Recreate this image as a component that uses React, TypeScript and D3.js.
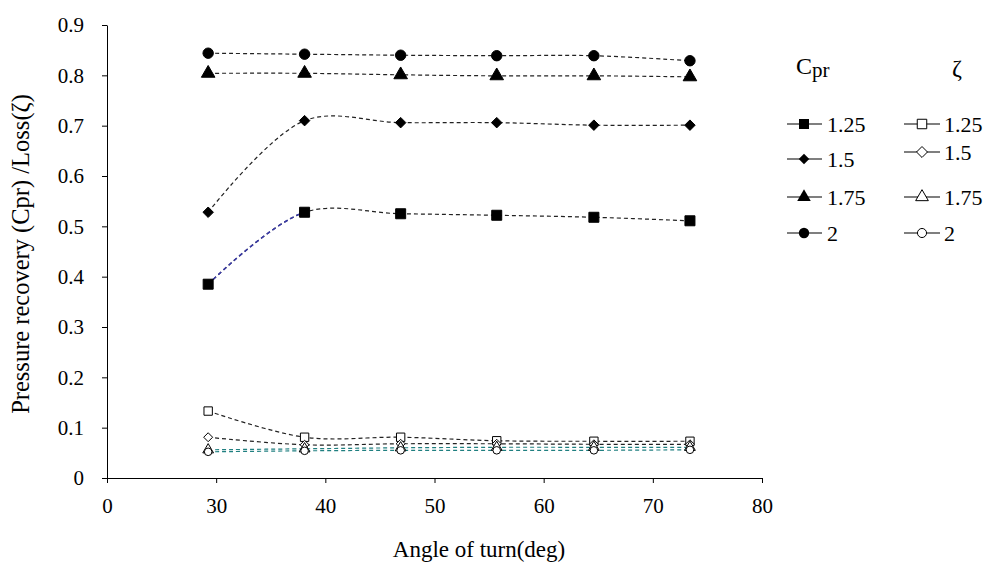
import React, { useEffect, useRef } from 'react';
import * as d3 from 'd3';

// angle of turn (deg)
const angles = [27.8, 38.1, 46.9, 55.7, 64.6, 73.4];

// pressure recovery Cpr, one array per area ratio
const cpr125 = [0.385, 0.528, 0.525, 0.522, 0.518, 0.511];
const cpr150 = [0.528, 0.71, 0.706, 0.706, 0.701, 0.701];
const cpr175 = [0.804, 0.804, 0.801, 0.799, 0.799, 0.797];
const cpr200 = [0.844, 0.842, 0.84, 0.839, 0.839, 0.829];

// loss coefficient zeta
const loss125 = [0.133, 0.081, 0.081, 0.074, 0.073, 0.073];
const loss150 = [0.081, 0.066, 0.068, 0.068, 0.067, 0.067];
const loss175 = [0.056, 0.058, 0.06, 0.061, 0.061, 0.061];
const loss200 = [0.052, 0.054, 0.055, 0.055, 0.055, 0.056];

const ratios = ['1.25', '1.5', '1.75', '2'];
const xTickLabels = [0, 30, 40, 50, 60, 70, 80];
const yTicks = [0, 0.1, 0.2, 0.3, 0.4, 0.5, 0.6, 0.7, 0.8, 0.9];

const FONT = '"Liberation Serif", "Times New Roman", serif';

// diamond drawn as a rotated square so it is as wide as it is tall
const diamond = {
  draw(ctx: any, size: number) {
    const r = Math.sqrt(size / 2);
    ctx.moveTo(0, -r);
    ctx.lineTo(r, 0);
    ctx.lineTo(0, r);
    ctx.lineTo(-r, 0);
    ctx.closePath();
  },
};

function App() {
  const svgRef = useRef<SVGSVGElement>(null);

  useEffect(() => {
    document.body.style.margin = '0';
    const svg = d3.select(svgRef.current);
    svg.selectAll('*').remove();

    const left = 107, right = 762, top = 25, bottom = 478;
    const step = (right - left) / (xTickLabels.length - 1);

    // the axis labels are evenly spaced but not evenly valued, so piecewise scale
    const x = d3.scaleLinear()
      .domain(xTickLabels)
      .range(xTickLabels.map((_, i) => left + i * step));
    const y = d3.scaleLinear().domain([0, 0.9]).range([bottom, top]);

    // axes
    const xAxis = svg.append('g')
      .attr('transform', `translate(0,${bottom})`)
      .call(d3.axisBottom(x).tickValues(xTickLabels).tickSize(5).tickSizeOuter(0).tickFormat(d3.format('d')));
    xAxis.select('.domain').attr('stroke', '#000');
    xAxis.selectAll('text')
      .attr('font-family', FONT).attr('font-size', 21).attr('fill', '#000')
      .attr('y', 28).attr('dy', '0.35em');

    const yAxis = svg.append('g')
      .attr('transform', `translate(${left},0)`)
      .call(d3.axisLeft(y).tickValues(yTicks).tickSize(5).tickSizeOuter(0).tickFormat(d => d === 0 ? '0' : d3.format('.1f')(d as number)));
    yAxis.select('.domain').attr('stroke', '#000');
    yAxis.selectAll('text')
      .attr('font-family', FONT).attr('font-size', 21).attr('fill', '#000').attr('x', -23);

    // axis titles
    svg.append('text')
      .attr('x', 479).attr('y', 557)
      .attr('text-anchor', 'middle')
      .attr('font-family', FONT).attr('font-size', 23)
      .text('Angle of turn(deg)');

    svg.append('text')
      .attr('transform', 'translate(29,254) rotate(-90)')
      .attr('text-anchor', 'middle')
      .attr('font-family', FONT).attr('font-size', 24.5)
      .text('Pressure recovery (Cpr) /Loss(ζ)');

    const shapes: any[] = [d3.symbolSquare, diamond, d3.symbolTriangle, d3.symbolCircle];
    const filledSizes = [100, 55, 80, 85];
    const openSizes = [70, 40, 50, 45];

    const series = [
      { values: cpr125, shape: 0, filled: true, color: '#222' },
      { values: cpr150, shape: 1, filled: true, color: '#222' },
      { values: cpr175, shape: 2, filled: true, color: '#222' },
      { values: cpr200, shape: 3, filled: true, color: '#222' },
      { values: loss125, shape: 0, filled: false, color: '#222' },
      { values: loss150, shape: 1, filled: false, color: '#222' },
      { values: loss175, shape: 2, filled: false, color: '#1f7f80' },
      { values: loss200, shape: 3, filled: false, color: '#1f7f80' },
    ];

    const line = d3.line<number>()
      .x((_, i) => x(angles[i]))
      .y(d => y(d))
      .curve(d3.curveCatmullRom.alpha(0.5));

    // blue first segment of the Cpr 1.25 curve
    svg.append('clipPath').attr('id', 'seg1')
      .append('rect')
      .attr('x', x(angles[0])).attr('y', 0)
      .attr('width', x(angles[1]) - x(angles[0])).attr('height', 569);

    series.forEach(s => {
      svg.append('path')
        .attr('d', line(s.values))
        .attr('fill', 'none')
        .attr('stroke', s.color)
        .attr('stroke-width', 1.2)
        .attr('stroke-dasharray', '4,3');
    });

    svg.append('path')
      .attr('d', line(cpr125))
      .attr('clip-path', 'url(#seg1)')
      .attr('fill', 'none')
      .attr('stroke', '#3a3aa8')
      .attr('stroke-width', 1.6)
      .attr('stroke-dasharray', '4,3');

    // markers
    series.forEach(s => {
      const sym = d3.symbol()
        .type(shapes[s.shape])
        .size(s.filled ? filledSizes[s.shape] : openSizes[s.shape]);
      svg.append('g')
        .selectAll('path')
        .data(s.values)
        .join('path')
        .attr('transform', (d, i) => `translate(${x(angles[i])},${y(d)})`)
        .attr('d', sym())
        .attr('fill', s.filled ? '#000' : '#fff')
        .attr('stroke', '#000')
        .attr('stroke-width', 1);
    });

    // legend
    const lg = svg.append('g').attr('font-family', FONT).attr('font-size', 22);
    const cHead = lg.append('text').attr('x', 796).attr('y', 74).attr('font-size', 24);
    cHead.append('tspan').text('C');
    cHead.append('tspan').attr('font-size', 21).attr('dy', 3).text('pr');
    lg.append('text').attr('x', 952).attr('y', 76).attr('font-size', 24).text('ζ');

    const rowY = [124, 159, 197, 233];
    const zRowY = [124, 152, 197, 233];

    ratios.forEach((r, i) => {
      const cy = rowY[i];
      lg.append('line').attr('x1', 787).attr('x2', 822).attr('y1', cy).attr('y2', cy)
        .attr('stroke', '#000').attr('stroke-width', 1.2);
      lg.append('path')
        .attr('transform', `translate(804,${cy})`)
        .attr('d', d3.symbol().type(shapes[i]).size(filledSizes[i])())
        .attr('fill', '#000');
      lg.append('text').attr('x', 827).attr('y', cy).attr('dy', '0.35em').text(r);

      const zy = zRowY[i];
      lg.append('line').attr('x1', 904).attr('x2', 940).attr('y1', zy).attr('y2', zy)
        .attr('stroke', '#000').attr('stroke-width', 1.2);
      lg.append('path')
        .attr('transform', `translate(922,${zy})`)
        .attr('d', d3.symbol().type(shapes[i]).size(openSizes[i] + 20)())
        .attr('fill', '#fff').attr('stroke', '#000');
      lg.append('text').attr('x', 944).attr('y', zy).attr('dy', '0.35em').text(r);
    });
  }, []);

  return (
    <svg ref={svgRef} width={990} height={569} style={{ display: 'block', background: '#fff' }} />
  );
}

export default App;
